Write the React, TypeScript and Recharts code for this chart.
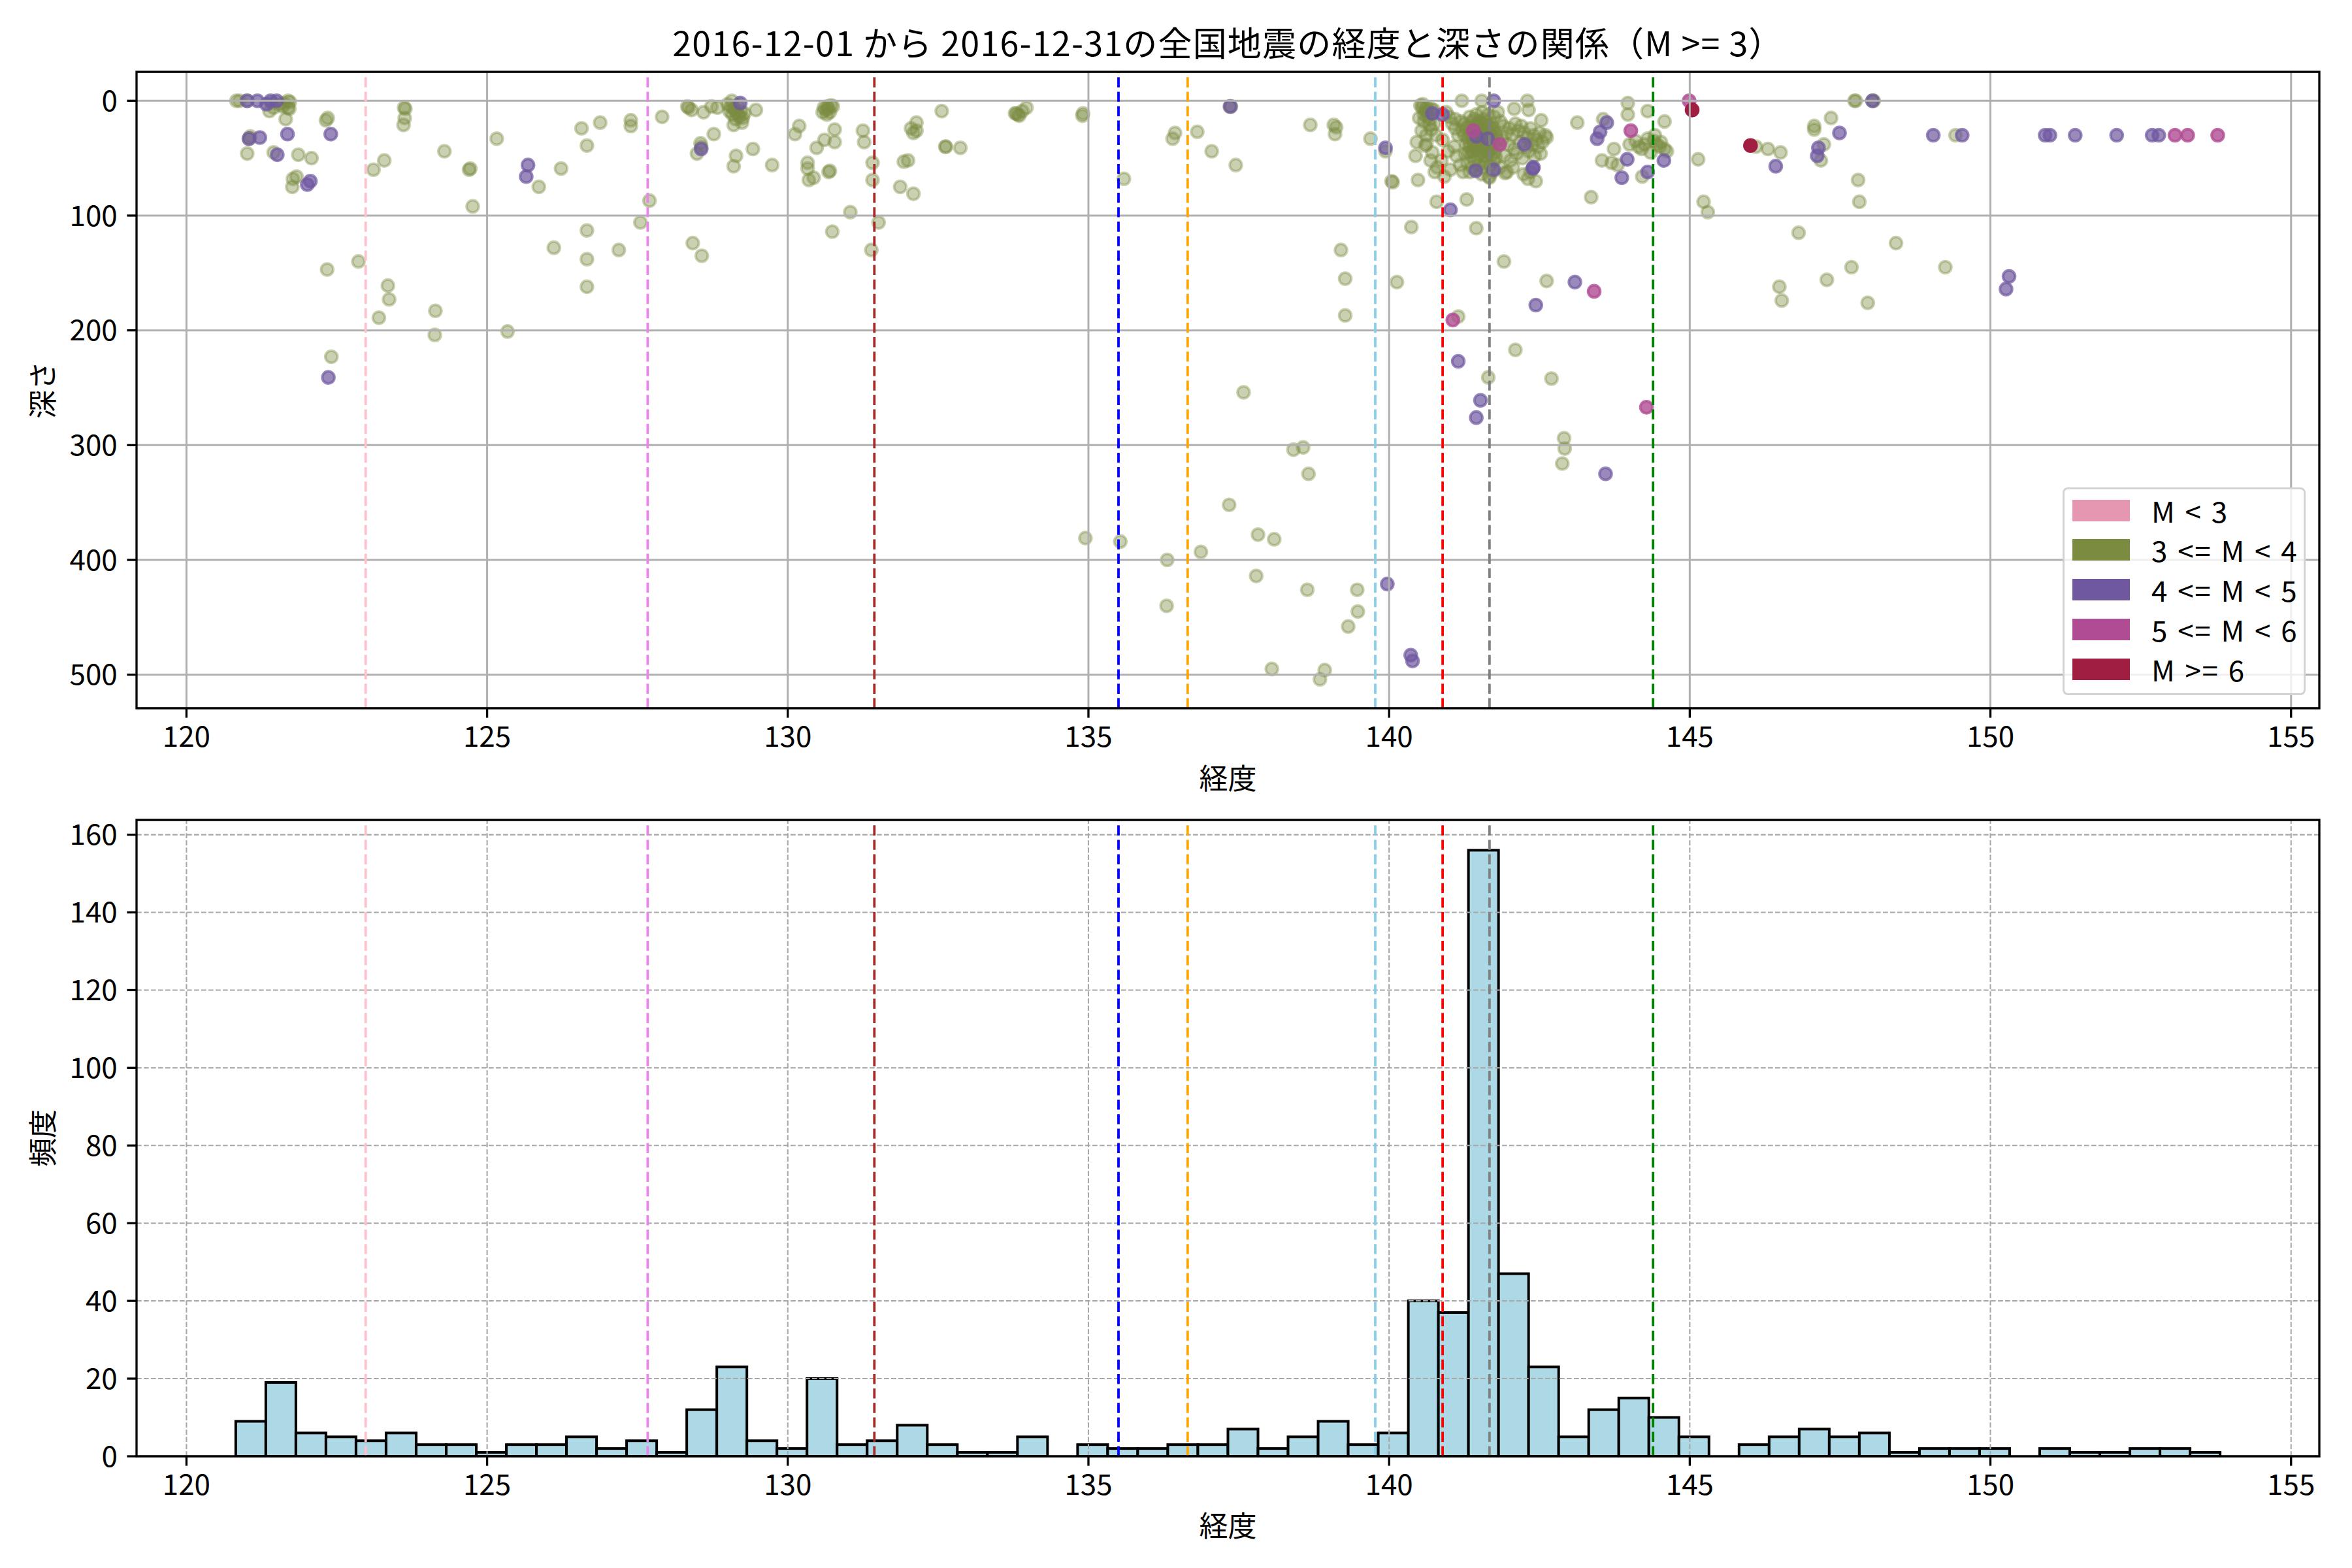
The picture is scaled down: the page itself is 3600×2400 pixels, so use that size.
import React from 'react';
import {
  ScatterChart,
  Scatter,
  ComposedChart,
  Bar,
  XAxis,
  YAxis,
  ReferenceLine,
  ReferenceArea,
} from 'recharts';

// ---------------- text ----------------
const TITLE = '2016-12-01 から 2016-12-31の全国地震の経度と深さの関係（M >= 3）';
const X_LABEL = '経度';
const Y_LABEL_TOP = '深さ';
const Y_LABEL_BOTTOM = '頻度';

// ---------------- legend ----------------
const LEGEND_LABELS = ['M < 3', '3 <= M < 4', '4 <= M < 5', '5 <= M < 6', 'M >= 6'];
const LEGEND_COLORS = ['#e597b2', '#7b8b40', '#6f58a0', '#b04c94', '#a01e42'];

// ---------------- axes ----------------
const LON_TICKS = [120, 125, 130, 135, 140, 145, 150, 155];
const DEPTH_TICKS = [0, 100, 200, 300, 400, 500];
const COUNT_TICKS = [0, 20, 40, 60, 80, 100, 120, 140, 160];
const LON_DOMAIN: [number, number] = [119.17, 155.47];
const DEPTH_DOMAIN: [number, number] = [-25.2, 529.2];
const COUNT_DOMAIN: [number, number] = [0, 163.8];

// ---------------- reference longitudes ----------------
const REF_LONS = [122.98, 127.67, 131.44, 135.5, 136.65, 139.77, 140.89, 141.67, 144.39];
const REF_COLORS = ['pink', 'violet', 'brown', 'blue', 'orange', 'skyblue', 'red', 'gray', 'green'];

// ---------------- histogram ----------------
const BIN_START = 120.82;
const BIN_WIDTH = 0.5;
const HIST_COUNTS = [
  9, 19, 6, 5, 4, 6, 3, 3, 1, 3, 3, 5, 2, 4, 1, 12, 23, 4, 2, 20, 3, 4, 8, 3, 1, 1, 5, 0, 3, 2, 2, 3, 3,
  7, 2, 5, 9, 3, 6, 40, 37, 156, 47, 23, 5, 12, 15, 10, 5, 0, 3, 5, 7, 5, 6, 1, 2, 2, 2, 0, 2, 1, 1, 2, 2, 1,
];

// ---------------- earthquakes [longitude, depth] ----------------
const QUAKES_M3: [number, number][] = [
  [120.83, 0], [120.88, 0], [121.01, 0], [121.69, 0], [121.72, 1], [121.69, 6], [121.71, 7], [121.45, 6],
  [121.38, 9], [121.65, 16], [121.55, 3], [121.6, 5], [121.62, 2], [121.42, 2], [122.32, 17], [122.35, 15],
  [123.62, 6], [123.64, 7], [123.63, 15], [123.61, 21], [121.04, 33], [121.06, 31], [121.01, 46], [121.45, 45],
  [121.86, 47], [122.08, 50], [121.77, 68], [121.83, 66], [121.76, 75], [123.29, 52], [123.11, 60], [124.29, 44],
  [124.7, 60], [124.72, 59], [125.16, 33], [126.57, 24], [126.66, 39], [126.23, 59], [125.86, 75], [124.76, 92],
  [126.66, 113], [126.11, 128], [126.66, 138], [126.66, 162], [122.34, 147], [122.86, 140], [123.35, 161],
  [123.37, 173], [123.2, 189], [124.14, 183], [124.13, 204], [125.34, 201], [122.41, 223],
  [126.88, 19], [127.39, 17], [127.39, 22], [127.91, 14], [128.33, 5], [128.35, 6], [128.73, 5], [128.83, 6],
  [129.07, 0], [129.47, 8], [129.1, 21], [129.24, 19], [128.77, 29], [128.49, 46], [128.56, 40], [128.55, 37],
  [128.4, 8], [128.6, 10], [129.14, 48], [129.1, 57], [129.42, 42], [129.74, 56],
  [129.0, 3], [129.05, 5], [129.1, 6], [129.12, 8], [129.15, 10], [129.18, 12], [129.2, 14], [129.08, 12],
  [129.22, 9], [129.25, 15], [129.13, 16], [129.28, 11], [129.03, 9], [129.17, 4],
  [130.19, 22], [130.12, 29], [130.67, 7], [130.6, 6], [130.75, 5], [130.7, 10], [130.65, 12], [130.63, 8],
  [130.72, 4], [130.58, 10], [130.66, 5], [130.78, 25], [130.61, 34], [130.78, 36], [130.48, 41], [130.33, 54],
  [130.33, 59], [130.35, 69], [130.43, 67], [130.68, 62], [130.7, 61], [131.25, 26], [131.27, 36], [131.41, 54],
  [131.41, 69], [131.93, 53], [132.0, 52], [131.87, 75], [132.09, 81], [132.14, 19], [132.09, 28], [132.14, 26],
  [132.05, 24], [132.56, 9], [132.62, 40], [132.63, 40], [132.87, 41], [127.7, 87], [127.55, 106], [127.19, 130],
  [128.42, 124], [128.57, 135], [131.04, 97], [130.74, 114], [131.51, 106], [131.39, 130],
  [133.78, 11], [133.83, 12], [133.85, 13], [133.8, 11], [133.97, 6], [133.9, 9], [134.91, 11], [134.9, 13],
  [135.59, 68], [136.44, 28], [136.4, 33], [136.81, 27], [137.05, 44], [137.35, 5], [137.37, 5], [137.45, 56],
  [138.69, 21], [139.08, 21], [139.1, 29], [139.12, 23], [139.69, 33], [139.94, 44], [140.04, 70], [140.06, 71],
  [140.48, 69], [140.79, 88], [140.37, 110], [139.2, 130], [139.27, 155], [140.13, 158], [139.27, 187],
  [137.58, 254], [134.95, 381], [135.53, 384], [136.31, 400], [136.87, 393], [136.3, 440], [137.34, 352],
  [142.91, 294], [142.92, 303], [142.88, 316], [138.41, 304], [138.57, 302], [138.66, 325], [137.82, 378],
  [138.09, 382], [137.79, 414], [138.64, 426], [139.47, 426], [139.48, 445], [139.32, 458], [138.05, 495],
  [138.93, 496], [138.85, 504],
  [140.6, 8], [140.62, 10], [140.55, 6], [140.58, 12], [140.67, 21], [140.6, 39], [140.62, 38], [140.69, 52],
  [140.52, 4], [140.56, 3], [140.63, 6], [140.66, 9], [140.7, 7], [140.74, 8], [140.64, 14], [140.58, 18],
  [140.5, 15], [140.68, 16], [140.62, 30], [140.54, 26], [140.46, 36], [140.44, 48], [140.75, 20], [140.7, 25],
  [140.78, 30], [140.72, 45], [140.8, 58], [140.76, 62],
  [140.87, 52], [140.89, 34], [141.21, 0], [141.54, 0], [142.3, 0], [142.08, 7], [142.32, 8], [141.81, 10],
  [142.53, 17], [141.29, 86], [141.45, 111], [141.91, 140], [142.62, 157], [141.15, 188], [142.1, 217],
  [141.65, 241], [142.7, 242], [141.23, 62], [141.67, 67], [141.93, 63], [142.31, 68],
  [141.2, 18], [141.25, 20], [141.28, 24], [141.32, 22], [141.35, 26], [141.38, 28], [141.4, 30], [141.42, 24],
  [141.45, 27], [141.48, 32], [141.5, 29], [141.52, 35], [141.55, 31], [141.58, 38], [141.6, 34], [141.62, 28],
  [141.65, 40], [141.68, 36], [141.7, 42], [141.72, 33], [141.3, 32], [141.33, 36], [141.36, 48], [141.4, 44],
  [141.44, 38], [141.47, 42], [141.5, 46], [141.55, 44], [141.6, 48], [141.64, 46], [141.25, 30], [141.22, 26],
  [141.28, 38], [141.32, 45], [141.42, 52], [141.46, 20], [141.52, 22], [141.56, 25], [141.6, 21], [141.66, 26],
  [141.7, 30], [141.74, 38], [141.76, 45], [141.78, 50], [141.62, 54], [141.56, 58], [141.5, 56], [141.44, 60],
  [141.38, 58], [141.34, 62], [141.4, 36], [141.48, 48], [141.58, 52], [141.68, 56], [141.72, 62], [141.66, 66],
  [141.54, 64], [141.3, 54], [141.26, 46],
  [141.34, 14], [141.38, 18], [141.42, 16], [141.46, 22], [141.5, 18], [141.54, 20], [141.58, 16], [141.62, 18],
  [141.66, 22], [141.7, 20], [141.74, 24], [141.78, 28], [141.8, 34], [141.36, 30], [141.4, 34], [141.44, 30],
  [141.48, 26], [141.52, 28], [141.56, 32], [141.6, 30], [141.64, 32], [141.68, 28], [141.72, 26], [141.76, 30],
  [141.34, 40], [141.38, 44], [141.42, 40], [141.46, 36], [141.5, 40], [141.54, 38], [141.58, 42], [141.62, 40],
  [141.66, 44], [141.7, 48], [141.74, 52], [141.78, 40], [141.45, 12], [141.55, 10], [141.65, 12], [141.75, 14],
  [141.85, 18], [141.9, 22], [141.95, 28], [142.0, 24], [142.05, 30], [142.1, 20], [142.15, 26], [142.2, 22],
  [142.25, 28], [142.3, 32], [142.35, 24], [142.4, 30], [142.45, 34], [142.5, 28], [142.38, 38], [142.28, 40],
  [142.18, 36], [142.08, 42], [141.98, 38], [141.88, 34], [141.92, 48], [142.02, 52], [142.12, 46], [142.22, 50],
  [142.32, 44], [142.42, 48], [142.48, 40], [142.55, 36], [142.6, 30], [142.62, 32], [142.52, 46], [141.84, 58],
  [141.96, 62], [142.06, 58], [142.24, 64], [142.35, 62], [142.44, 70],
  [140.95, 10], [141.0, 14], [141.05, 20], [141.1, 24], [141.15, 30], [141.08, 40], [141.12, 48], [141.18, 56],
  [140.98, 44], [141.02, 60], [140.92, 66], [141.1, 16],
  [143.13, 19], [143.56, 16], [143.97, 2], [143.97, 12], [144.3, 9], [144.58, 18], [143.74, 42], [144.0, 38],
  [144.15, 40], [144.3, 33], [144.42, 30], [144.5, 40], [144.58, 42], [144.35, 45], [144.45, 38], [143.54, 52],
  [143.7, 54], [143.8, 56], [144.21, 66], [143.36, 84], [144.1, 35], [144.2, 42], [144.25, 38], [144.4, 35],
  [144.52, 36], [144.62, 44], [145.14, 51], [145.23, 88], [145.3, 97], [146.1, 40], [146.3, 42], [146.51, 45],
  [146.81, 115], [146.49, 162], [146.53, 174], [147.28, 156], [147.69, 145], [147.07, 22], [147.07, 25],
  [147.35, 15], [147.23, 38], [147.18, 52], [147.74, 0], [147.8, 69], [147.82, 88], [147.76, 0], [148.04, 0],
  [148.06, 0], [149.42, 30], [148.43, 124], [149.25, 145], [147.96, 176],
];

const QUAKES_M4: [number, number][] = [
  [121.01, 0], [121.18, 0], [121.4, 0], [121.5, 0], [121.33, 3], [121.04, 33], [121.22, 32], [121.68, 29],
  [122.4, 29], [121.51, 47], [122.01, 73], [122.06, 70], [125.68, 56], [125.65, 66], [122.36, 241],
  [128.56, 42], [129.21, 2], [137.36, 5], [139.94, 41], [140.72, 11], [140.89, 12], [141.74, 0], [141.45, 31],
  [141.64, 33], [142.25, 38], [141.44, 61], [141.74, 60], [142.39, 59], [142.4, 58], [141.02, 95],
  [143.09, 158], [142.44, 178], [141.15, 227], [141.52, 261], [141.45, 276], [143.62, 19], [143.51, 27],
  [143.46, 33], [143.96, 51], [143.87, 67], [144.3, 62], [144.57, 52], [146.43, 57], [147.49, 28],
  [147.14, 41], [147.12, 48], [148.04, 0], [149.05, 30], [149.53, 30], [150.91, 30], [150.99, 30],
  [151.41, 30], [152.1, 30], [152.69, 30], [152.8, 30], [150.31, 153], [150.26, 164], [143.6, 325],
  [139.97, 421], [140.36, 483], [140.39, 488],
];

const QUAKES_M5: [number, number][] = [
  [141.4, 26], [141.84, 38], [143.41, 166], [141.06, 191], [144.28, 267], [144.02, 26], [144.99, 0],
  [153.07, 30], [153.28, 30], [153.78, 30],
];

const QUAKES_M6: [number, number][] = [
  [145.04, 8], [146.01, 39],
];

// ---------------- layout / style ----------------
const FONT = "'Noto Sans CJK JP', 'Noto Sans', sans-serif";
const FS = 44;
const PLOT_LEFT = 209;
const PLOT_RIGHT = 3550;
const TOP_PLOT_TOP = 110;
const TOP_PLOT_BOTTOM = 1084;
const HIST_CHART_TOP = 1200;
const HIST_PLOT_TOP = 1255;
const HIST_PLOT_BOTTOM = 2229;
const CHART_H = 1200;

const tickStyle = { fill: '#000', fontSize: FS, fontFamily: FONT };
const tickLineStyle = { stroke: '#000', strokeWidth: 3.3 };

const toPoints = (arr: [number, number][]) => arr.map(([lon, depth]) => ({ lon, depth }));

const histData = HIST_COUNTS.map((count, k) => ({
  mid: BIN_START + (k + 0.5) * BIN_WIDTH,
  count,
}));

// pixel width of one histogram bin on the shared longitude scale
const binPx = (BIN_WIDTH * (PLOT_RIGHT - PLOT_LEFT)) / (LON_DOMAIN[1] - LON_DOMAIN[0]);

const HistBar = (props: any) => {
  const { x, y, width, height } = props;
  if (!height || height <= 0) return <g />;
  const cx = x + width / 2;
  return (
    <rect
      x={cx - binPx / 2}
      y={y}
      width={binPx}
      height={height}
      fill="#add8e6"
      stroke="#000"
      strokeWidth={4}
    />
  );
};

const makeShape = (color: string, alpha: number) => (props: any) => {
  if (props.cx == null || props.cy == null) return <g />;
  return (
    <circle
      cx={props.cx}
      cy={props.cy}
      r={9.3}
      fill={color}
      fillOpacity={alpha}
      stroke={color}
      strokeOpacity={alpha}
      strokeWidth={4}
    />
  );
};

const SERIES = [
  { data: toPoints(QUAKES_M3), color: LEGEND_COLORS[1], alpha: 0.4 },
  { data: toPoints(QUAKES_M4), color: LEGEND_COLORS[2], alpha: 0.7 },
  { data: toPoints(QUAKES_M5), color: LEGEND_COLORS[3], alpha: 0.8 },
  { data: toPoints(QUAKES_M6), color: LEGEND_COLORS[4], alpha: 1 },
];

const refLines = () =>
  REF_LONS.map((lon, i) => (
    <ReferenceLine
      key={'ref' + i}
      x={lon}
      stroke={REF_COLORS[i]}
      strokeWidth={3.8}
      strokeDasharray="15.4 6.7"
      ifOverflow="extendDomain"
      {...({ zIndex: 900 } as any)}
    />
  ));

const frame = (y1: number, y2: number) => (
  <ReferenceArea
    x1={LON_DOMAIN[0]}
    x2={LON_DOMAIN[1]}
    y1={y1}
    y2={y2}
    fill="none"
    fillOpacity={0}
    stroke="#000"
    strokeWidth={3.3}
    ifOverflow="visible"
    {...({ zIndex: 950 } as any)}
  />
);

const labelBase: React.CSSProperties = {
  position: 'absolute',
  fontFamily: FONT,
  fontSize: FS,
  color: '#000',
  lineHeight: 1,
  whiteSpace: 'nowrap',
  transform: 'translate(-50%, -50%)',
};

const App = () => {
  const plotCenterX = (PLOT_LEFT + PLOT_RIGHT) / 2;
  return (
    <div
      style={{
        position: 'absolute',
        left: 0,
        top: 0,
        width: 3600,
        height: 2400,
        background: '#fff',
        fontFamily: FONT,
        overflow: 'hidden',
      }}
    >
      {/* scatter: longitude vs depth */}
      <div style={{ position: 'absolute', left: 0, top: 0 }}>
        <ScatterChart
          width={3600}
          height={CHART_H}
          margin={{ top: TOP_PLOT_TOP, right: 3600 - PLOT_RIGHT, bottom: 0, left: 0 }}
        >
          <XAxis
            type="number"
            dataKey="lon"
            domain={LON_DOMAIN}
            ticks={LON_TICKS}
            interval={0}
            allowDataOverflow
            height={CHART_H - TOP_PLOT_BOTTOM}
            tickSize={14.6}
            tickMargin={13}
            tick={tickStyle}
            tickLine={tickLineStyle}
            axisLine={false}
          />
          <YAxis
            type="number"
            dataKey="depth"
            domain={DEPTH_DOMAIN}
            reversed
            ticks={DEPTH_TICKS}
            interval={0}
            allowDataOverflow
            width={PLOT_LEFT}
            tickSize={14.6}
            tickMargin={14.6}
            tick={tickStyle}
            tickLine={tickLineStyle}
            axisLine={false}
          />
          {SERIES.map((s, i) => (
            <Scatter
              key={'s' + i}
              data={s.data}
              shape={makeShape(s.color, s.alpha)}
              isAnimationActive={false}
            />
          ))}
          {LON_TICKS.map((t) => (
            <ReferenceLine key={'gx' + t} x={t} stroke="#b0b0b0" strokeWidth={3} {...({ zIndex: 800 } as any)} />
          ))}
          {DEPTH_TICKS.map((t) => (
            <ReferenceLine key={'gy' + t} y={t} stroke="#b0b0b0" strokeWidth={3} {...({ zIndex: 800 } as any)} />
          ))}
          {refLines()}
          {frame(DEPTH_DOMAIN[0], DEPTH_DOMAIN[1])}
        </ScatterChart>
      </div>

      {/* histogram of longitude */}
      <div style={{ position: 'absolute', left: 0, top: HIST_CHART_TOP }}>
        <ComposedChart
          width={3600}
          height={CHART_H}
          data={histData}
          margin={{ top: HIST_PLOT_TOP - HIST_CHART_TOP, right: 3600 - PLOT_RIGHT, bottom: 0, left: 0 }}
          barCategoryGap={0}
          barGap={0}
        >
          <XAxis
            type="number"
            dataKey="mid"
            domain={LON_DOMAIN}
            ticks={LON_TICKS}
            interval={0}
            allowDataOverflow
            height={CHART_H - (HIST_PLOT_BOTTOM - HIST_CHART_TOP)}
            tickSize={14.6}
            tickMargin={13}
            tick={tickStyle}
            tickLine={tickLineStyle}
            axisLine={false}
          />
          <YAxis
            type="number"
            domain={COUNT_DOMAIN}
            ticks={COUNT_TICKS}
            interval={0}
            allowDataOverflow
            width={PLOT_LEFT}
            tickSize={14.6}
            tickMargin={14.6}
            tick={tickStyle}
            tickLine={tickLineStyle}
            axisLine={false}
          />
          <Bar
            dataKey="count"
            fill="#add8e6"
            stroke="#000"
            strokeWidth={4}
            barSize={36}
            shape={HistBar}
            isAnimationActive={false}
          />
          {LON_TICKS.map((t) => (
            <ReferenceLine
              key={'hx' + t}
              x={t}
              stroke="#a8a8a8"
              strokeWidth={2.1}
              strokeDasharray="7.7 3.3"
              {...({ zIndex: 800 } as any)}
            />
          ))}
          {COUNT_TICKS.map((t) => (
            <ReferenceLine
              key={'hy' + t}
              y={t}
              stroke="#a8a8a8"
              strokeWidth={2.1}
              strokeDasharray="7.7 3.3"
              {...({ zIndex: 800 } as any)}
            />
          ))}
          {refLines()}
          {frame(COUNT_DOMAIN[0], COUNT_DOMAIN[1])}
        </ComposedChart>
      </div>

      {/* title and axis labels */}
      <div style={{ ...labelBase, left: plotCenterX, top: 64, fontSize: 52, letterSpacing: 1.2 }}>{TITLE}</div>
      <div style={{ ...labelBase, left: plotCenterX, top: 1189 }}>{X_LABEL}</div>
      <div style={{ ...labelBase, left: plotCenterX, top: 2333 }}>{X_LABEL}</div>
      <div style={{ ...labelBase, left: 63, top: (TOP_PLOT_TOP + TOP_PLOT_BOTTOM) / 2, transform: 'translate(-50%, -50%) rotate(-90deg)' }}>
        {Y_LABEL_TOP}
      </div>
      <div style={{ ...labelBase, left: 63, top: (HIST_PLOT_TOP + HIST_PLOT_BOTTOM) / 2, transform: 'translate(-50%, -50%) rotate(-90deg)' }}>
        {Y_LABEL_BOTTOM}
      </div>

      {/* legend */}
      <div
        style={{
          position: 'absolute',
          left: 3157,
          top: 746,
          width: 372,
          height: 318,
          boxSizing: 'border-box',
          border: '3px solid #d3d3d3',
          borderRadius: 8,
          background: 'rgba(255,255,255,0.8)',
        }}
      >
        {LEGEND_LABELS.map((lab, i) => (
          <div key={lab} style={{ position: 'absolute', left: 12, top: 15.5 + 60.75 * i, height: 33, width: 350 }}>
            <div style={{ position: 'absolute', left: 0, top: 0, width: 88, height: 33, background: LEGEND_COLORS[i] }} />
            <div
              style={{
                position: 'absolute',
                left: 121,
                top: 0,
                height: 33,
                lineHeight: '33px',
                fontSize: FS,
                fontFamily: FONT,
                color: '#000',
                whiteSpace: 'nowrap',
                letterSpacing: 1.5,
                wordSpacing: 3,
              }}
            >
              {lab}
            </div>
          </div>
        ))}
      </div>
    </div>
  );
};

export default App;
